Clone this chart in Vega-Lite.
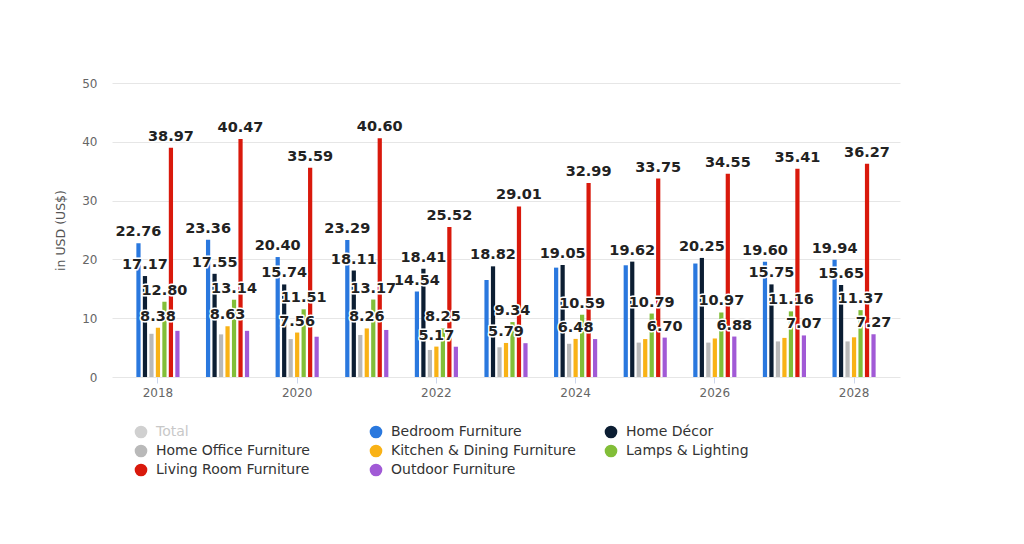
{
  "$schema": "https://vega.github.io/schema/vega-lite/v6.json",
  "width": 788,
  "height": 294,
  "autosize": {"type": "none"},
  "padding": {"left": 112, "top": 83, "right": 124, "bottom": 167},
  "background": "white",
  "config": {"view": {"stroke": null}, "font": "DejaVu Sans"},
  "data": {"values": [
    {"year": "2018", "series": "Bedroom Furniture", "value": 22.76, "label": true},
    {"year": "2018", "series": "Home Décor", "value": 17.17, "label": true},
    {"year": "2018", "series": "Home Office Furniture", "value": 7.35, "label": false},
    {"year": "2018", "series": "Kitchen & Dining Furniture", "value": 8.38, "label": true},
    {"year": "2018", "series": "Lamps & Lighting", "value": 12.80, "label": true},
    {"year": "2018", "series": "Living Room Furniture", "value": 38.97, "label": true},
    {"year": "2018", "series": "Outdoor Furniture", "value": 7.85, "label": false},
    {"year": "2019", "series": "Bedroom Furniture", "value": 23.36, "label": true},
    {"year": "2019", "series": "Home Décor", "value": 17.55, "label": true},
    {"year": "2019", "series": "Home Office Furniture", "value": 7.25, "label": false},
    {"year": "2019", "series": "Kitchen & Dining Furniture", "value": 8.63, "label": true},
    {"year": "2019", "series": "Lamps & Lighting", "value": 13.14, "label": true},
    {"year": "2019", "series": "Living Room Furniture", "value": 40.47, "label": true},
    {"year": "2019", "series": "Outdoor Furniture", "value": 7.85, "label": false},
    {"year": "2020", "series": "Bedroom Furniture", "value": 20.40, "label": true},
    {"year": "2020", "series": "Home Décor", "value": 15.74, "label": true},
    {"year": "2020", "series": "Home Office Furniture", "value": 6.45, "label": false},
    {"year": "2020", "series": "Kitchen & Dining Furniture", "value": 7.56, "label": true},
    {"year": "2020", "series": "Lamps & Lighting", "value": 11.51, "label": true},
    {"year": "2020", "series": "Living Room Furniture", "value": 35.59, "label": true},
    {"year": "2020", "series": "Outdoor Furniture", "value": 6.85, "label": false},
    {"year": "2021", "series": "Bedroom Furniture", "value": 23.29, "label": true},
    {"year": "2021", "series": "Home Décor", "value": 18.11, "label": true},
    {"year": "2021", "series": "Home Office Furniture", "value": 7.15, "label": false},
    {"year": "2021", "series": "Kitchen & Dining Furniture", "value": 8.26, "label": true},
    {"year": "2021", "series": "Lamps & Lighting", "value": 13.17, "label": true},
    {"year": "2021", "series": "Living Room Furniture", "value": 40.60, "label": true},
    {"year": "2021", "series": "Outdoor Furniture", "value": 8.0, "label": false},
    {"year": "2022", "series": "Bedroom Furniture", "value": 14.54, "label": true},
    {"year": "2022", "series": "Home Décor", "value": 18.41, "label": true},
    {"year": "2022", "series": "Home Office Furniture", "value": 4.6, "label": false},
    {"year": "2022", "series": "Kitchen & Dining Furniture", "value": 5.17, "label": true},
    {"year": "2022", "series": "Lamps & Lighting", "value": 8.25, "label": true},
    {"year": "2022", "series": "Living Room Furniture", "value": 25.52, "label": true},
    {"year": "2022", "series": "Outdoor Furniture", "value": 5.15, "label": false},
    {"year": "2023", "series": "Bedroom Furniture", "value": 16.5, "label": false},
    {"year": "2023", "series": "Home Décor", "value": 18.82, "label": true},
    {"year": "2023", "series": "Home Office Furniture", "value": 5.05, "label": false},
    {"year": "2023", "series": "Kitchen & Dining Furniture", "value": 5.79, "label": true},
    {"year": "2023", "series": "Lamps & Lighting", "value": 9.34, "label": true},
    {"year": "2023", "series": "Living Room Furniture", "value": 29.01, "label": true},
    {"year": "2023", "series": "Outdoor Furniture", "value": 5.75, "label": false},
    {"year": "2024", "series": "Bedroom Furniture", "value": 18.6, "label": false},
    {"year": "2024", "series": "Home Décor", "value": 19.05, "label": true},
    {"year": "2024", "series": "Home Office Furniture", "value": 5.65, "label": false},
    {"year": "2024", "series": "Kitchen & Dining Furniture", "value": 6.48, "label": true},
    {"year": "2024", "series": "Lamps & Lighting", "value": 10.59, "label": true},
    {"year": "2024", "series": "Living Room Furniture", "value": 32.99, "label": true},
    {"year": "2024", "series": "Outdoor Furniture", "value": 6.45, "label": false},
    {"year": "2025", "series": "Bedroom Furniture", "value": 19.0, "label": false},
    {"year": "2025", "series": "Home Décor", "value": 19.62, "label": true},
    {"year": "2025", "series": "Home Office Furniture", "value": 5.85, "label": false},
    {"year": "2025", "series": "Kitchen & Dining Furniture", "value": 6.45, "label": false},
    {"year": "2025", "series": "Lamps & Lighting", "value": 10.79, "label": true},
    {"year": "2025", "series": "Living Room Furniture", "value": 33.75, "label": true},
    {"year": "2025", "series": "Outdoor Furniture", "value": 6.70, "label": true},
    {"year": "2026", "series": "Bedroom Furniture", "value": 19.3, "label": false},
    {"year": "2026", "series": "Home Décor", "value": 20.25, "label": true},
    {"year": "2026", "series": "Home Office Furniture", "value": 5.85, "label": false},
    {"year": "2026", "series": "Kitchen & Dining Furniture", "value": 6.55, "label": false},
    {"year": "2026", "series": "Lamps & Lighting", "value": 10.97, "label": true},
    {"year": "2026", "series": "Living Room Furniture", "value": 34.55, "label": true},
    {"year": "2026", "series": "Outdoor Furniture", "value": 6.88, "label": true},
    {"year": "2027", "series": "Bedroom Furniture", "value": 19.60, "label": true},
    {"year": "2027", "series": "Home Décor", "value": 15.75, "label": true},
    {"year": "2027", "series": "Home Office Furniture", "value": 6.05, "label": false},
    {"year": "2027", "series": "Kitchen & Dining Furniture", "value": 6.65, "label": false},
    {"year": "2027", "series": "Lamps & Lighting", "value": 11.16, "label": true},
    {"year": "2027", "series": "Living Room Furniture", "value": 35.41, "label": true},
    {"year": "2027", "series": "Outdoor Furniture", "value": 7.07, "label": true},
    {"year": "2028", "series": "Bedroom Furniture", "value": 19.94, "label": true},
    {"year": "2028", "series": "Home Décor", "value": 15.65, "label": true},
    {"year": "2028", "series": "Home Office Furniture", "value": 6.05, "label": false},
    {"year": "2028", "series": "Kitchen & Dining Furniture", "value": 6.75, "label": false},
    {"year": "2028", "series": "Lamps & Lighting", "value": 11.37, "label": true},
    {"year": "2028", "series": "Living Room Furniture", "value": 36.27, "label": true},
    {"year": "2028", "series": "Outdoor Furniture", "value": 7.27, "label": true}
  ]},
  "encoding": {
    "x": {
      "field": "year", "type": "nominal",
      "scale": {"paddingInner": 0.38, "paddingOuter": 0.35},
      "axis": {
        "title": null, "labelAngle": 0,
        "values": ["2018", "2020", "2022", "2024", "2026", "2028"],
        "domain": false, "ticks": true, "tickColor": "#ccd6eb", "tickSize": 6, "bandPosition": 0.5,
        "labelColor": "#666666", "labelFontSize": 12, "labelPadding": 4, "grid": false
      }
    },
    "xOffset": {
      "field": "series", "type": "nominal",
      "scale": {"domain": ["Bedroom Furniture", "Home Décor", "Home Office Furniture", "Kitchen & Dining Furniture", "Lamps & Lighting", "Living Room Furniture", "Outdoor Furniture"], "paddingInner": 0.35}
    },
    "y": {
      "field": "value", "type": "quantitative",
      "scale": {"domain": [0, 50]},
      "axis": {
        "values": [0, 10, 20, 30, 40, 50],
        "grid": true, "gridColor": "#e6e6e6", "domain": false, "ticks": false,
        "labelColor": "#666666", "labelFontSize": 12, "labelPadding": 15,
        "title": "in USD (US$)", "titleColor": "#555555", "titleFontSize": 12.5,
        "titleFontWeight": "normal", "titlePadding": 14
      }
    }
  },
  "layer": [
    {
      "mark": {"type": "bar"},
      "encoding": {
        "color": {
          "field": "series", "type": "nominal",
          "scale": {
            "domain": ["Total", "Bedroom Furniture", "Home Décor", "Home Office Furniture", "Kitchen & Dining Furniture", "Lamps & Lighting", "Living Room Furniture", "Outdoor Furniture"],
            "range": ["#d0d0d0", "#2a78de", "#0c1e33", "#b9b9b9", "#f9b216", "#82be38", "#d9190c", "#a15ad6"]
          },
          "legend": {
            "orient": "none", "legendX": 22, "legendY": 342,
            "direction": "horizontal", "columns": 3, "title": null,
            "symbolType": "circle", "symbolSize": 160, "symbolStrokeWidth": 0, "symbolOpacity": 1,
            "labelFontSize": 14, "labelColor": "#333333", "labelOffset": 8, "labelLimit": 300,
            "columnPadding": 28, "rowPadding": 5, "gridAlign": "all",
            "encode": {"labels": {"update": {"fill": {"signal": "datum.label === 'Total' ? '#c8c8c8' : '#333333'"}}}}
          }
        }
      }
    },
    {
      "transform": [{"filter": "datum.label"}],
      "mark": {"type": "text", "baseline": "bottom", "dy": -4, "fontSize": 14.5, "fontWeight": "bold", "fill": "white", "stroke": "white", "strokeWidth": 3, "strokeJoin": "round"},
      "encoding": {"text": {"field": "value", "type": "quantitative", "format": ".2f"}}
    },
    {
      "transform": [{"filter": "datum.label"}],
      "mark": {"type": "text", "baseline": "bottom", "dy": -4, "fontSize": 14.5, "fontWeight": "bold", "fill": "#222222"},
      "encoding": {"text": {"field": "value", "type": "quantitative", "format": ".2f"}}
    }
  ]
}
